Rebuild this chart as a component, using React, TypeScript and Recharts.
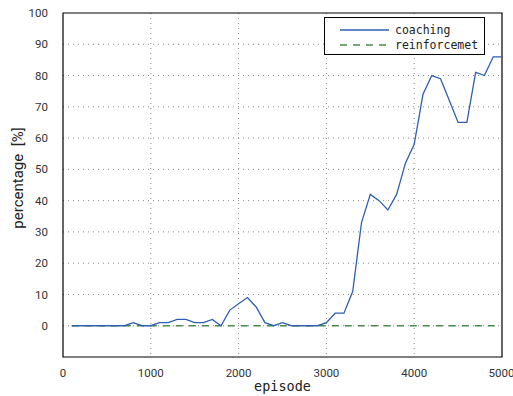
import React from 'react';
import { LineChart, Line, XAxis, YAxis, CartesianGrid, ReferenceArea, Legend } from 'recharts';

const episodes = [100,200,300,400,500,600,700,800,900,1000,1100,1200,1300,1400,1500,1600,1700,1800,1900,2000,2100,2200,2300,2400,2500,2600,2700,2800,2900,3000,3100,3200,3300,3400,3500,3600,3700,3800,3900,4000,4100,4200,4300,4400,4500,4600,4700,4800,4900,5000];
const coaching = [0,0,0,0,0,0,0,1,0,0,1,1,2,2,1,1,2,0,5,7,9,6,1,0,1,0,0,0,0,1,4,4,11,33,42,40,37,42,52,58,74,80,79,72,65,65,81,80,86,86];
const reinforcement = episodes.map(() => 0);
const xTicks = [0,1000,2000,3000,4000,5000];
const yTicks = [0,10,20,30,40,50,60,70,80,90,100];
const seriesNames = ['coaching', 'reinforcemet'];

const data = episodes.map((e, i) => ({ episode: e, coaching: coaching[i], reinforcement: reinforcement[i] }));

const BLUE = '#2f5fb3';
const GREEN = '#4a8c4a';
const MONO = '"DejaVu Sans Mono", "Liberation Mono", monospace';
const SANS = 'Roboto, "Liberation Sans", Arial, sans-serif';

const LegendBox = () => (
  <div style={{ position: 'absolute', left: 324, top: 17, width: 161, height: 38, border: '1.5px solid #000', background: '#fff', boxSizing: 'border-box' }}>
    <svg width={161} height={38} style={{ position: 'absolute', left: 0, top: 0 }}>
      <line x1={15} x2={64} y1={12} y2={12} stroke={BLUE} strokeWidth={1.3} />
      <line x1={15} x2={64} y1={27} y2={27} stroke={GREEN} strokeWidth={1.3} strokeDasharray="7 6" />
      <text x={70} y={16} fontFamily={MONO} fontSize={11.5} fill="#222">{seriesNames[0]}</text>
      <text x={70} y={31} fontFamily={MONO} fontSize={11.5} fill="#222">{seriesNames[1]}</text>
    </svg>
  </div>
);

const XLabel = () => (
  <text x={282.5} y={391} textAnchor="middle" fontFamily={MONO} fontSize={13.5} fill="#222">episode</text>
);
const YLabel = () => (
  <text x={0} y={0} transform="translate(23,178) rotate(-90)" textAnchor="middle" fontFamily={SANS} fontSize={15} fill="#222">{'percentage\u00a0\u00a0[%]'}</text>
);

export default function App() {
  return (
    <div style={{ position: 'absolute', left: 0, top: 0, width: 513, height: 396, background: '#fff' }}>
      <LineChart width={513} height={396} data={data} margin={{ top: 13, right: 11, left: 0, bottom: 0 }}>
        <CartesianGrid stroke="#888" strokeDasharray="1 4" verticalValues={[1000,2000,3000,4000]} horizontalValues={[0,10,20,30,40,50,60,70,80,90]} />
        <XAxis dataKey="episode" type="number" domain={[0, 5000]} ticks={xTicks} height={39} tickLine={false} axisLine={false}
          tick={{ fontFamily: SANS, fontSize: 11.5, fill: '#333' }} tickMargin={6}
          label={<XLabel />} />
        <YAxis type="number" domain={[-10, 100]} ticks={yTicks} width={63} tickLine={false} axisLine={false}
          tick={{ fontFamily: SANS, fontSize: 11.5, fill: '#333' }} tickMargin={9}
          label={<YLabel />} />
        <ReferenceArea x1={0} x2={5000} y1={-10} y2={100} fill="none" stroke="#000" strokeWidth={1.2} fillOpacity={0} />
        <Line dataKey="reinforcement" stroke={GREEN} strokeWidth={1.3} strokeDasharray="7 6" dot={false} isAnimationActive={false} />
        <Line dataKey="coaching" stroke={BLUE} strokeWidth={1.3} dot={false} isAnimationActive={false} />
        <Legend content={() => null} />
      </LineChart>
      <LegendBox />
    </div>
  );
}
